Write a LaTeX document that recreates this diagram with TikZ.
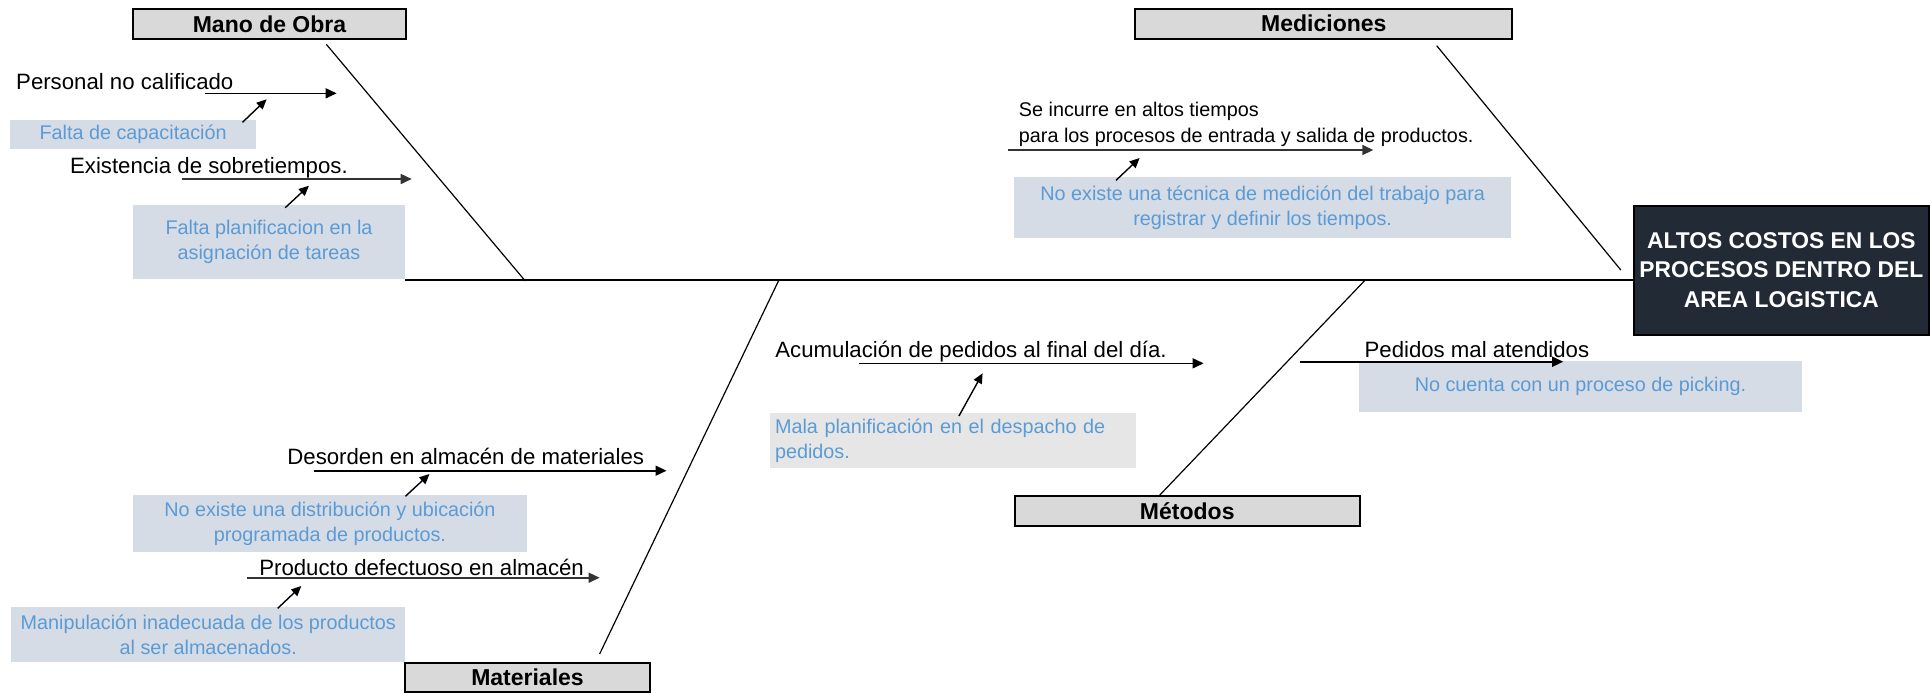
\documentclass[tikz,border=0pt]{standalone}
\usepackage{fontspec}
\setmainfont{Liberation Sans}
\usetikzlibrary{arrows.meta}
\definecolor{catfill}{HTML}{D9D9D9}
\definecolor{subfill}{HTML}{D6DCE5}
\definecolor{grayfill}{HTML}{E7E6E6}
\definecolor{bluetxt}{HTML}{5B9BD5}
\definecolor{effill}{HTML}{222A35}
\begin{document}
\begin{tikzpicture}[x=0.5pt,y=-0.5pt,
  catbox/.style={draw=black, line width=1pt, fill=catfill, inner sep=0pt,
    font=\fontsize{11.5}{13}\selectfont\bfseries},
  subbox/.style={fill=subfill, inner sep=0pt, text=bluetxt, align=center,
    font=\fontsize{9.9}{12.5}\selectfont},
  causetxt/.style={inner sep=0pt, anchor=base west, font=\fontsize{11.1}{13}\selectfont},
  smalltxt/.style={inner sep=0pt, anchor=base west, align=left, font=\fontsize{9.9}{12.7}\selectfont},
  bone/.style={line width=0.6pt},
  causearrow/.style={line width=0.8pt, -{Triangle[length=5.5pt,width=5pt]}},
  subarrow/.style={line width=0.7pt, -{Triangle[length=5pt,width=4.5pt]}}]
\useasboundingbox (0,0) rectangle (1930,693);

% effect box
\node[draw=black, line width=1pt, fill=effill, text=white, inner sep=0pt,
  minimum width=147.7pt, minimum height=64.4pt, align=center,
  font=\fontsize{11.4}{14.75}\selectfont\bfseries] (eff) at (1781.3,270.1)
  {ALTOS COSTOS EN LOS\\PROCESOS DENTRO DEL\\AREA LOGISTICA};

% category boxes
\node[catbox, minimum width=136.8pt, minimum height=15pt] (mano) at (269.5,24) {Mano de Obra};
\node[catbox, minimum width=188.4pt, minimum height=14.75pt] (medi) at (1323.8,23.75) {Mediciones};
\node[catbox, minimum width=122.1pt, minimum height=14.8pt] (mate) at (527.5,677.5) {Materiales};
\node[catbox, minimum width=172.55pt, minimum height=15pt] (meto) at (1187.25,510.7) {Métodos};

% sub-cause boxes
\node[subbox, minimum width=123.1pt, minimum height=14.65pt] (b1) at (133.1,134.65) {\raisebox{-1pt}{Falta de capacitación}};
\node[subbox, minimum width=135.95pt, minimum height=36.85pt] (b2) at (269.05,241.85) {Falta planificacion en la\\asignación de tareas};
\node[subbox, minimum width=248.65pt, minimum height=30.35pt] (b3) at (1262.65,207.35) {No existe una técnica de medición del trabajo para\\registrar y definir los tiempos.};
\node[subbox, minimum width=196.9pt, minimum height=28.35pt] (b4) at (329.9,523.35) {No existe una distribución y ubicación\\programada de productos.};
\node[subbox, minimum width=197.1pt, minimum height=27.2pt] (b5) at (208.3,634.5) {Manipulación inadecuada de los productos\\al ser almacenados.};
\node[subbox, fill=grayfill, align=left, inner xsep=2.45pt, text width=178.15pt, minimum height=27.2pt] (b6) at (953.15,440.5) {Mala planificación en el despacho de\\pedidos.};
\node[subbox, minimum width=221.2pt, minimum height=25.65pt] (b7) at (1580.4,386.65) {No cuenta con un proceso de picking.};

% cause texts
\node[causetxt] (c1) at (15.8,89.3) {Personal no calificado};
\node[causetxt] (c2) at (69.7,173.3) {Existencia de sobretiempos.};
\node[smalltxt] (c3) at (1018.5,142) {Se incurre en altos tiempos\\para los procesos de entrada y salida de productos.};
\node[causetxt] (c4) at (287,464) {Desorden en almacén de materiales};
\node[causetxt] (c5) at (258.9,575.5) {Producto defectuoso en almacén};
\node[causetxt] (c6) at (775,357.5) {Acumulación de pedidos al final del día.};
\node[causetxt] (c7) at (1364.2,357) {Pedidos mal atendidos};

% spine and bones
\coordinate (spL) at (405,280);
\coordinate (spR) at (1633.6,280);
\draw[line width=0.8pt] (spL) -- (spR);
\coordinate (manoA) at (326.3,44.3);   \coordinate (manoB) at (525.3,281);
\coordinate (mediA) at (1436.7,45.7);  \coordinate (mediB) at (1620.8,270);
\coordinate (mateA) at (599.6,654);    \coordinate (mateB) at (778.9,280);
\coordinate (metoA) at (1159.8,495);   \coordinate (metoB) at (1365.2,280);
\draw[bone] (manoA) -- (manoB);
\draw[bone] (mediA) -- (mediB);
\draw[bone] (mateA) -- (mateB);
\draw[bone] (metoA) -- (metoB);

% cause arrows
\coordinate (a1s) at (204.8,93.3);  \coordinate (a1e) at (336.6,93.3);
\coordinate (a2s) at (181.6,179);   \coordinate (a2e) at (411.7,179);
\coordinate (a3s) at (1007.7,150);  \coordinate (a3e) at (1373.3,150);
\coordinate (a4s) at (313.8,470.7); \coordinate (a4e) at (666.5,470.7);
\coordinate (a5s) at (246.9,577.7); \coordinate (a5e) at (599.6,577.7);
\coordinate (a6s) at (858.5,363.3); \coordinate (a6e) at (1203.6,363.3);
\coordinate (a7s) at (1299.9,361.7);\coordinate (a7e) at (1563.2,361.7);
\draw[causearrow] (a1s) -- (a1e);
\draw[causearrow, draw=black!80] (a2s) -- (a2e);
\draw[causearrow, draw=black!80] (a3s) -- (a3e);
\draw[causearrow] (a4s) -- (a4e);
\draw[causearrow, draw=black!80] (a5s) -- (a5e);
\draw[causearrow] (a6s) -- (a6e);
\draw[causearrow] (a7s) -- (a7e);

% sub-cause arrows
\coordinate (s1s) at (242.5,122.3); \coordinate (s1e) at (266.6,99.3);
\coordinate (s2s) at (285.2,207.7); \coordinate (s2e) at (308.9,185.7);
\coordinate (s3s) at (1116,180.3);  \coordinate (s3e) at (1139.6,158);
\coordinate (s4s) at (405.4,496.3); \coordinate (s4e) at (429.5,474);
\coordinate (s5s) at (277.7,608.3); \coordinate (s5e) at (301.3,586);
\coordinate (s6s) at (958.9,416);   \coordinate (s6e) at (982.6,373.3);
\draw[subarrow] (s1s) -- (s1e);
\draw[subarrow] (s2s) -- (s2e);
\draw[subarrow] (s3s) -- (s3e);
\draw[subarrow] (s4s) -- (s4e);
\draw[subarrow] (s5s) -- (s5e);
\draw[subarrow] (s6s) -- (s6e);
\end{tikzpicture}
\end{document}
